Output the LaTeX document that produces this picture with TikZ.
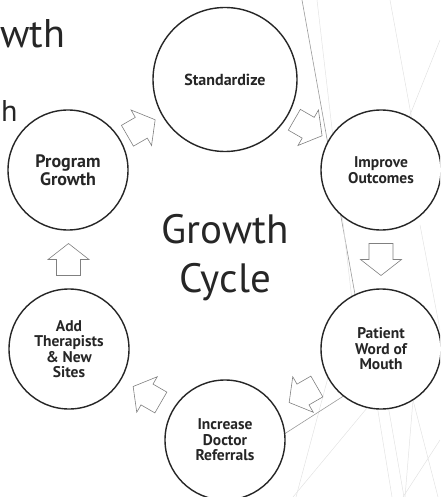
\documentclass[tikz,border=0pt]{standalone}
\usepackage{fontspec}
\setmainfont{PT Sans}
\usetikzlibrary{calc}
\usetikzlibrary{positioning}

\definecolor{ink}{HTML}{262626}
\definecolor{facet}{HTML}{9A9A9A}

\begin{document}
\begin{tikzpicture}
	[
	x=1pt, y=-1pt,
	stage/.style = {circle, draw=ink, line width=1.4pt, fill=white, minimum size=120pt, inner sep=0pt, align=center, text=ink, font=\bfseries\fontsize{15.5}{15.5}\selectfont},
	arrowline/.style = {draw=gray, line width=0.6pt, fill=white},
	facetline/.style = {draw=facet, line width=0.6pt},
	faintline/.style = {draw=gray!22, line width=0.5pt},
	cyclearrow/.pic = {\path[arrowline] (-16,-12) -- (0,-12) -- (0,-20.5) -- (16,0) -- (0,20.5) -- (0,12) -- (-16,12) -- cycle;}
	]
	\clip (0,0) rectangle (440,497);

	% background facets
	\draw[facetline] (302,0) -- (356,300);
	\draw[faintline] (317,0) -- (352,300);
	\draw[faintline] (390,0) -- (412,120);
	\draw[faintline] (440,40) -- (408,120);
	\draw[faintline] (420,225) -- (440,330);
	\draw[faintline] (330,370) -- (296,497);
	\draw[faintline] (367,408) -- (293,497);
	\draw[faintline] (377,405) -- (392,497);
	\draw[faintline] (388,405) -- (404,497);
	\draw[faintline] (413,400) -- (405,497);
	\draw[faintline] (413,400) -- (438,497);
	\draw[faintline] (440,440) -- (403,497);
	\draw[facetline] (225,472) -- (381,372);

	% title lines at the left edge
	\node[anchor=base west, inner sep=0pt, text=ink, font=\fontsize{40}{48}\selectfont] (titletail) at (0,48) {wth};
	\node[anchor=base west, inner sep=0pt, text=ink, font=\fontsize{30}{36}\selectfont] (subtail) at (1,122) {h};

	% the six stages
	\node[stage, minimum size=144pt, font=\bfseries\fontsize{16}{16}\selectfont] (std) at (225,79.5) {Standardize};
	\node[stage] (imp) at (381,170) {Improve\\Outcomes};
	\node[stage] (pat) at (381,349) {Patient\\Word of\\Mouth};
	\node[stage] (inc) at (225,440) {Increase\\Doctor\\Referrals};
	\node[stage] (add) at (69,349) {Add\\Therapists\\\& New\\Sites};
	\node[stage, font=\bfseries\fontsize{18}{17.5}\selectfont] (prog) at (68,170) {Program\\Growth};

	\node[align=center, text=ink, font=\fontsize{41}{49}\selectfont] (cycle) at (225,258) {Growth\\Cycle};

	% arrows between the stages
	\coordinate (a1) at ($(prog.30)!.5!(std.210)$);
	\coordinate (a2) at ($(std.330)!.5!(imp.150)$);
	\coordinate (a3) at ($(imp.south)!.5!(pat.north)$);
	\coordinate (a4) at ($(pat.210)!.5!(inc.30)$);
	\coordinate (a5) at ($(inc.150)!.5!(add.330)$);
	\coordinate (a6) at ($(add.north)!.5!(prog.south)$);

	\pic[rotate=30] at (a1) {cyclearrow};
	\pic[rotate=-30] at (a2) {cyclearrow};
	\pic[rotate=-90] at (a3) {cyclearrow};
	\pic[rotate=210] at (a4) {cyclearrow};
	\pic[rotate=150] at (a5) {cyclearrow};
	\pic[rotate=90] at (a6) {cyclearrow};

\end{tikzpicture}
\end{document}
